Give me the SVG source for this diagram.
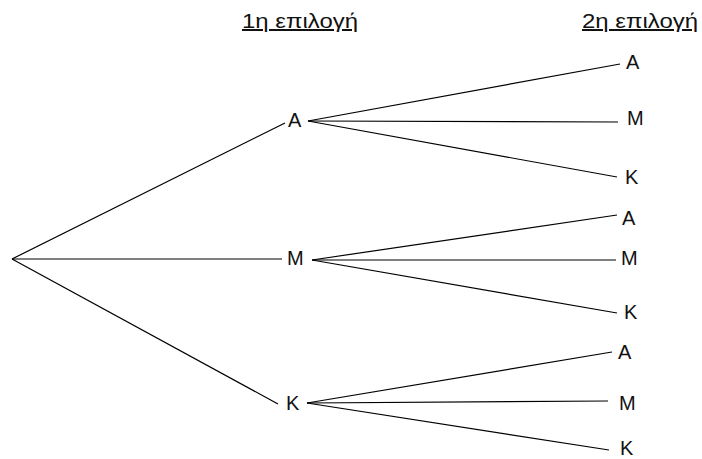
<svg xmlns="http://www.w3.org/2000/svg" width="702" height="459" viewBox="0 0 702 459">
<style>
.t{font-family:"Liberation Sans","DejaVu Sans",sans-serif;font-size:20px;fill:#111}
.h{font-family:"Liberation Sans","DejaVu Sans",sans-serif;font-size:20px;fill:#111;text-decoration:underline}
#edges line{stroke:#000;stroke-width:1.2}
</style>
<rect width="702" height="459" fill="#fff"/>
<g id="headers">
<text class="h" x="242" y="28" textLength="116" lengthAdjust="spacingAndGlyphs">1η επιλογή</text>
<text class="h" x="582" y="28" textLength="116" lengthAdjust="spacingAndGlyphs">2η επιλογή</text>
</g>
<g id="edges">
<line x1="12" y1="259" x2="285" y2="123"/>
<line x1="12" y1="259" x2="282" y2="259"/>
<line x1="12" y1="259" x2="278" y2="404"/>
<line x1="308" y1="121" x2="620" y2="64"/>
<line x1="308" y1="121" x2="618" y2="122"/>
<line x1="308" y1="121" x2="617" y2="177"/>
<line x1="312" y1="260" x2="617" y2="215"/>
<line x1="312" y1="260" x2="616" y2="260"/>
<line x1="312" y1="260" x2="617" y2="313"/>
<line x1="307" y1="403" x2="612" y2="352"/>
<line x1="307" y1="403" x2="608" y2="401"/>
<line x1="307" y1="403" x2="609" y2="450"/>
</g>
<g id="n-A"><text class="t" x="288" y="127">A</text></g>
<g id="n-M"><text class="t" x="287" y="265">M</text></g>
<g id="n-K"><text class="t" x="286" y="410">K</text></g>
<g id="n-AA"><text class="t" x="626" y="69">A</text></g>
<g id="n-AM"><text class="t" x="627" y="125">M</text></g>
<g id="n-AK"><text class="t" x="625" y="184">K</text></g>
<g id="n-MA"><text class="t" x="622" y="225">A</text></g>
<g id="n-MM"><text class="t" x="621" y="265">M</text></g>
<g id="n-MK"><text class="t" x="624" y="319">K</text></g>
<g id="n-KA"><text class="t" x="618" y="359">A</text></g>
<g id="n-KM"><text class="t" x="619" y="410">M</text></g>
<g id="n-KK"><text class="t" x="620" y="455">K</text></g>
</svg>
